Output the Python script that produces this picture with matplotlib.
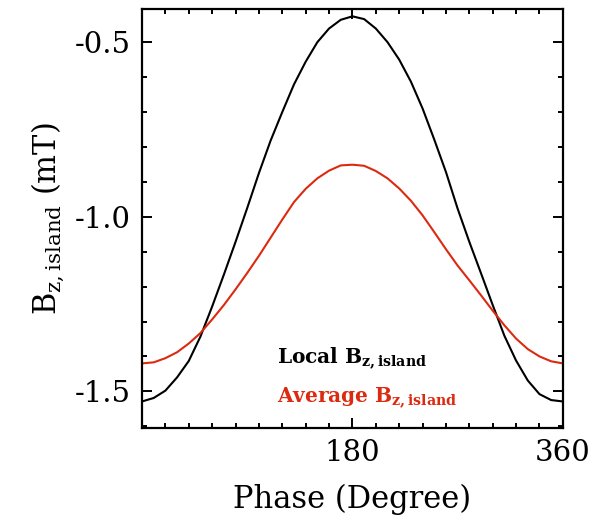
import numpy as np
import matplotlib
matplotlib.use("Agg")
import matplotlib.pyplot as plt
from matplotlib.ticker import MultipleLocator

# phase samples (degrees)
phase = list(range(0, 361, 10))

# local field at the island
local_bz = [-1.529, -1.519, -1.498, -1.460, -1.413, -1.343, -1.257, -1.166, -1.072,
            -0.975, -0.875, -0.782, -0.700, -0.621, -0.556, -0.500, -0.461, -0.436,
            -0.426, -0.434, -0.461, -0.500, -0.550, -0.613, -0.690, -0.779, -0.872,
            -0.977, -1.072, -1.162, -1.253, -1.341, -1.412, -1.469, -1.508, -1.525,
            -1.529]

# island-averaged field
avg_bz = [-1.420, -1.417, -1.405, -1.388, -1.363, -1.333, -1.294, -1.253, -1.208,
          -1.161, -1.112, -1.060, -1.008, -0.958, -0.920, -0.890, -0.868, -0.853,
          -0.851, -0.854, -0.869, -0.890, -0.919, -0.954, -0.996, -1.044, -1.093,
          -1.140, -1.182, -1.225, -1.269, -1.311, -1.349, -1.379, -1.400, -1.414,
          -1.420]

x_ticks = [0, 180, 360]
x_ticklabels = ["", "180", "360"]
y_ticks = [-1.5, -1.0, -0.5]
y_ticklabels = ["-1.5", "-1.0", "-0.5"]

RED = "#dc2a10"

plt.rcParams["font.family"] = ["DejaVu Serif"]
plt.rcParams["mathtext.fontset"] = "dejavuserif"
plt.rcParams["axes.unicode_minus"] = False

fig = plt.figure(figsize=(5.9, 5.19), dpi=100)
ax = fig.add_axes([0.2407, 0.176, 0.7133, 0.8067])

ax.plot(phase, local_bz, color="black", lw=1.5)
ax.plot(phase, avg_bz, color=RED, lw=1.5)

ax.set_xlim(0, 360)
ax.set_ylim(-1.604, -0.405)

ax.set_xticks(x_ticks)
ax.set_xticklabels(x_ticklabels)
ax.set_yticks(y_ticks)
ax.set_yticklabels(y_ticklabels)
ax.xaxis.set_minor_locator(MultipleLocator(20))
ax.yaxis.set_minor_locator(MultipleLocator(0.1))

ax.tick_params(which="both", direction="in", top=True, right=True, width=1.4,
               labelsize=21)
ax.tick_params(which="major", length=7, pad=8)
ax.tick_params(which="minor", length=3.5)
for sp in ax.spines.values():
    sp.set_linewidth(1.6)

ax.set_xlabel("Phase (Degree)", fontsize=22, labelpad=12)
ax.set_ylabel(r"B$_{\mathrm{z,island}}$ (mT)", fontsize=22, labelpad=6)

ax.text(0.321, 0.165, r"Local B$_{\mathbf{z,island}}$", transform=ax.transAxes,
        fontsize=14.5, fontweight="bold", color="black", va="center", ha="left")
ax.text(0.321, 0.07, r"Average B$_{\mathbf{z,island}}$", transform=ax.transAxes,
        fontsize=14.5, fontweight="bold", color=RED, va="center", ha="left")

fig.savefig("out.png", dpi=100)
